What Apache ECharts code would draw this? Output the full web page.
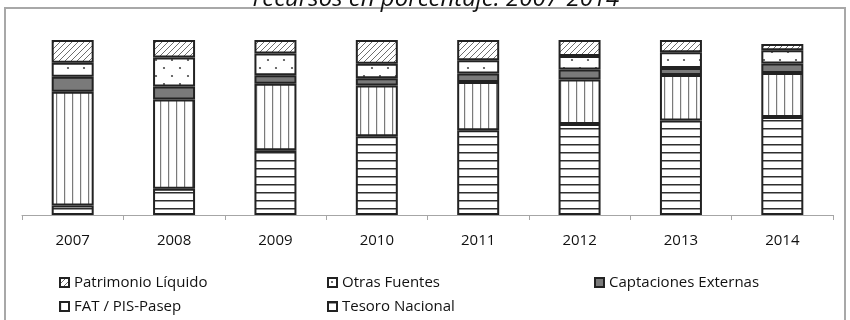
<!DOCTYPE html>
<html>
<head>
<meta charset="utf-8">
<script src="https://cdn.jsdelivr.net/npm/echarts@6/dist/echarts.min.js"></script>
<style>
  html, body { margin: 0; padding: 0; background: #fff; }
  #chart { width: 850px; height: 320px; }
</style>
</head>
<body>
<div id="chart"></div>
<script>
// Funding sources by year, share in percent
const years = ['2007', '2008', '2009', '2010', '2011', '2012', '2013', '2014'];
const tesoroNacional = [5.5, 15, 37, 45, 48.5, 52, 54, 56];
const fatPisPasep = [65, 51, 38, 29, 27.5, 25.5, 26, 25.2];
const captacionesExternas = [8.5, 7.5, 4.8, 4.2, 4.8, 5.7, 4, 5.4];
const otrasFuentes = [8, 16.5, 12.5, 8.2, 7.6, 7.6, 9, 7.6];
const patrimonioLiquido = [13, 10, 7.7, 13.6, 11.6, 9.2, 7, 3.5];

const titleText = 'recursos en porcentaje: 2007-2014';
const FONT = '"Open Sans", sans-serif';

// Small tiled canvases used as hatch fills
function makePattern(w, h, draw) {
  const c = document.createElement('canvas');
  c.width = w; c.height = h;
  const g = c.getContext('2d');
  g.fillStyle = '#ffffff';
  g.fillRect(0, 0, w, h);
  draw(g, w, h);
  return { image: c, repeat: 'repeat' };
}

const horizLines = makePattern(8, 8, (g, w) => {
  g.fillStyle = '#2e2e2e';
  g.fillRect(0, 0, w, 1.5);
});
const vertLines = makePattern(8, 8, (g, w, h) => {
  g.fillStyle = '#7a7a7a';
  g.fillRect(0, 0, 1.2, h);
});
const dots = makePattern(16, 16, (g) => {
  g.fillStyle = '#4a4a4a';
  g.beginPath(); g.arc(4, 4, 1.1, 0, Math.PI * 2); g.fill();
  g.beginPath(); g.arc(12, 12, 1.1, 0, Math.PI * 2); g.fill();
});
const diagonal = makePattern(6, 6, (g, w, h) => {
  g.strokeStyle = '#6e6e6e';
  g.lineWidth = 1;
  g.beginPath();
  g.moveTo(-1, h + 1); g.lineTo(w + 1, -1);
  g.moveTo(-1 - w, h + 1); g.lineTo(1, -1);
  g.moveTo(w - 1, h + 1); g.lineTo(2 * w + 1, -1);
  g.stroke();
});

const border = { borderColor: '#222222', borderWidth: 2 };

function stackSeries(name, data, fill) {
  return {
    name: name,
    type: 'bar',
    stack: 'total',
    barWidth: 42,
    data: data,
    itemStyle: Object.assign({ color: fill }, border),
    emphasis: { disabled: true }
  };
}

const legendBase = {
  orient: 'horizontal',
  padding: 0,
  itemWidth: 9,
  itemHeight: 9,
  icon: 'rect',
  textStyle: { fontFamily: FONT, fontSize: 15, color: '#111111' },
  selectedMode: false
};

const chart = echarts.init(document.getElementById('chart'), null, { renderer: 'canvas' });
chart.setOption({
  animation: false,
  backgroundColor: '#ffffff',
  grid: { left: 22, right: 17, top: 40, bottom: 105 },
  xAxis: {
    type: 'category',
    data: years,
    axisLine: { lineStyle: { color: '#a6a6a6', width: 1 } },
    axisTick: { show: true, length: 5, lineStyle: { color: '#a6a6a6' } },
    axisLabel: { fontFamily: FONT, fontSize: 15, color: '#111111', margin: 18 }
  },
  yAxis: {
    type: 'value',
    min: 0,
    max: 100,
    show: false
  },
  legend: [
    Object.assign({ data: ['Patrimonio Líquido'], left: 59, top: 275 }, legendBase),
    Object.assign({ data: ['Otras Fuentes'], left: 327, top: 275 }, legendBase),
    Object.assign({ data: ['Captaciones Externas'], left: 594, top: 275 }, legendBase),
    Object.assign({ data: ['FAT / PIS-Pasep'], left: 59, top: 299 }, legendBase),
    Object.assign({ data: ['Tesoro Nacional'], left: 327, top: 299 }, legendBase)
  ],
  graphic: [
    {
      type: 'rect',
      silent: true,
      shape: { x: 5, y: 8, width: 840, height: 340 },
      style: { fill: 'none', stroke: '#a8a8a8', lineWidth: 2 }
    },
    {
      type: 'text',
      silent: true,
      x: 436,
      y: 11,
      style: {
        text: titleText,
        fontFamily: FONT,
        fontStyle: 'italic',
        fontSize: 24,
        fill: '#111111',
        align: 'center',
        verticalAlign: 'bottom'
      }
    }
  ],
  series: [
    stackSeries('Tesoro Nacional', tesoroNacional, horizLines),
    stackSeries('FAT / PIS-Pasep', fatPisPasep, vertLines),
    stackSeries('Captaciones Externas', captacionesExternas, '#7a7a7a'),
    stackSeries('Otras Fuentes', otrasFuentes, dots),
    stackSeries('Patrimonio Líquido', patrimonioLiquido, diagonal)
  ]
});
</script>
</body>
</html>
